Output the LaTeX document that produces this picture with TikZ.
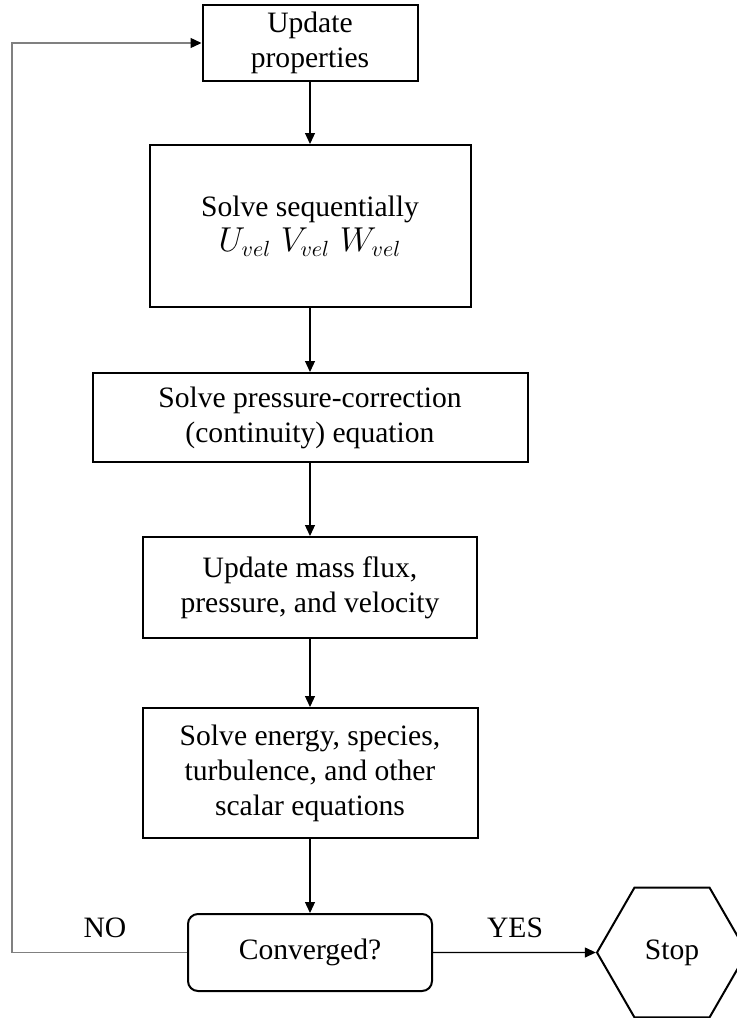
\documentclass[tikz,border=0pt]{standalone}
\usepackage{fontspec}
\setmainfont{Liberation Serif}
\usepackage{tikz}
\usetikzlibrary{positioning,arrows.meta,shapes.geometric}
\tikzset{
  proc/.style={draw,line width=1pt,align=center,inner sep=2pt},
  decide/.style={draw,line width=1pt,rounded corners=5pt,align=center,inner sep=2pt},
  halt/.style={draw,line width=1pt,regular polygon,regular polygon sides=6,minimum size=75pt,inner sep=0pt},
  flow/.style={-{Triangle[length=5.5pt,width=5pt,color=black]},line width=0.6pt},
}

\begin{document}
\begin{tikzpicture}[x=0.5pt,y=-0.5pt,font=\fontsize{14.8pt}{17.5pt}\selectfont]
  \useasboundingbox (0,0) rectangle (737,1018);
  % main column of steps
  \node[proc,minimum width=107.5pt,minimum height=38pt] (upd) at (310,43) {Update\\properties};
  \node[proc,minimum width=160.5pt,minimum height=81pt] (seq) at (310,226)
     {Solve sequentially\\{\fontsize{16pt}{18pt}\selectfont$U_{vel}\;V_{vel}\;W_{vel}$}};
  \node[proc,minimum width=217.5pt,minimum height=44.5pt] (pcorr) at (310,417.5)
     {Solve pressure-correction\\(continuity) equation};
  \node[proc,minimum width=167pt,minimum height=50.5pt] (flux) at (310,587.5)
     {Update mass flux,\\pressure, and velocity};
  \node[proc,minimum width=167.5pt,minimum height=65pt] (energy) at (310,773)
     {Solve energy, species,\\turbulence, and other\\scalar equations};
  \node[decide,minimum width=122pt,minimum height=38.5pt] (conv) at (310,952.5) {Converged?};
  \node[halt] (stop) at (672,952.5) {Stop};
  \foreach \a/\b in {upd/seq,seq/pcorr,pcorr/flux,flux/energy,energy/conv}
    \draw[flow] (\a) -- (\b);
  \draw[flow] (conv) -- (stop);
  % loop back when not converged
  \coordinate (back) at (12,952.5);
  \draw[flow,draw=gray,line width=0.7pt] (conv.west) -- (back) |- (upd.west);
  \node (no) at (105,928) {NO};
  \node (yes) at (515,928) {YES};
\end{tikzpicture}
\end{document}
